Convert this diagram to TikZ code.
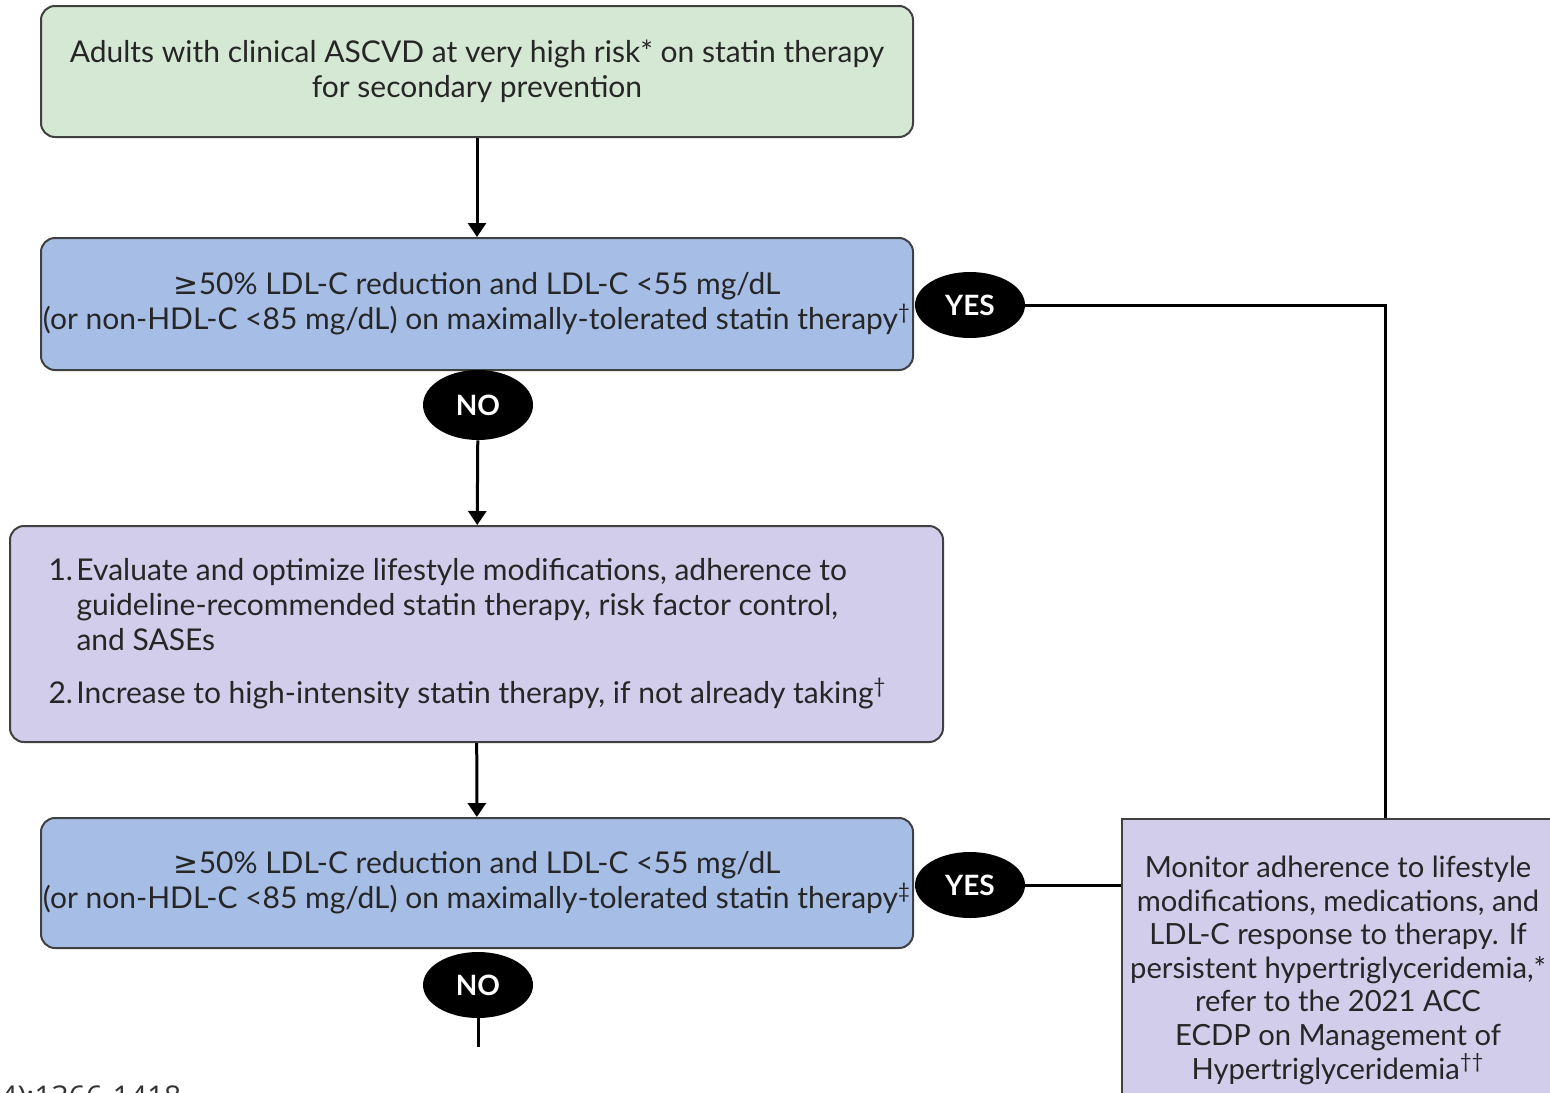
\documentclass[tikz,border=0pt]{standalone}
\usepackage{fontspec}
\setmainfont{Lato}
\newfontfamily\symfont{DejaVu Sans}
\newfontfamily\notefont{Open Sans}
\usetikzlibrary{shapes.geometric, arrows.meta, positioning}

\definecolor{startgreen}{HTML}{D5E8D3}
\definecolor{checkblue}{HTML}{A6BEE5}
\definecolor{actpurple}{HTML}{D1CDEA}

\begin{document}
\begin{tikzpicture}[
    x=0.5pt, y=-0.5pt,
    box/.style={
        rectangle,
        rounded corners=7pt,
        draw=black!75,
        line width=1pt,
        text=black!85,
        align=center,
        inner sep=0pt,
        font=\fontsize{15}{17.5}\selectfont
    },
    answer/.style={ellipse, fill=black, text=white, inner sep=0pt,
        minimum width=55pt, minimum height=33pt,
        font=\bfseries\fontsize{14}{16}\selectfont},
    link/.style={line width=1.5pt},
    flow/.style={link, -{Triangle[width=9pt,length=7pt]}}
]

\useasboundingbox (0,0) rectangle (1550,1092);
\clip (0,0) rectangle (1550,1092);

% boxes of the main column
\node[box, fill=startgreen, minimum width=436pt, minimum height=65.5pt] (start) at (477,71.5)
    {\raisebox{-3pt}{\parbox{430pt}{\centering Adults with clinical ASCVD at very high risk* on statin therapy\\for secondary prevention}}};
\node[box, fill=checkblue, minimum width=436pt, minimum height=66pt] (check1) at (477,304)
    {{\symfont ≥}50\% LDL-C reduction and LDL-C <55 mg/dL\\(or non-HDL-C <85 mg/dL) on maximally-tolerated statin therapy\textsuperscript{†}};
\node[box, fill=actpurple, minimum width=466.5pt, minimum height=108pt, align=left] (optimize) at (476.5,634)
    {\parbox{428pt}{\raggedright
     \hangindent=14pt\hangafter=1\makebox[14pt][l]{1.}Evaluate and optimize lifestyle modifications, adherence to\newline guideline-recommended statin therapy, risk factor control,\newline and SASEs\par
     \vspace{9pt}
     \hangindent=14pt\hangafter=1\makebox[14pt][l]{2.}Increase to high-intensity statin therapy, if not already taking\textsuperscript{†}}};
\node[box, fill=checkblue, minimum width=436pt, minimum height=65pt] (check2) at (477,883)
    {{\symfont ≥}50\% LDL-C reduction and LDL-C <55 mg/dL\\(or non-HDL-C <85 mg/dL) on maximally-tolerated statin therapy\textsuperscript{‡}};

% side box
\node[box, rounded corners=0pt, fill=actpurple, minimum width=219pt, minimum height=146pt, anchor=north] (monitor) at (1341,818) {};
\node[align=center, text=black!85, font=\fontsize{14.6}{16.8}\selectfont, anchor=north] (monitortext) at (1338,849)
    {Monitor adherence to lifestyle\\modifications, medications, and\\LDL-C response to therapy. If\\persistent hypertriglyceridemia,*\\refer to the 2021 ACC\\ECDP on Management of\\Hypertriglyceridemia\textsuperscript{††}};

% answers
\node[answer] (yes1) at (970,305) {YES};
\node[answer, minimum height=35pt] (no1) at (478,405) {NO};
\node[answer] (yes2) at (970,885) {YES};
\node[answer] (no2) at (478,985) {NO};

\coordinate (cut) at (478,1047);

% connectors
\draw[flow] (start) -- (check1);
\draw[flow] (no1) -- (optimize);
\draw[flow] (optimize) -- (check2);
\draw[link] (yes1.east) -| ([xshift=22pt]monitor.north);
\draw[link] (yes2.east) -- (yes2.east -| monitor.west);
\draw[link] (no2) -- (cut);

% source line, cut off at the lower edge
\node[anchor=north west, inner sep=0pt, text=black!80, font=\notefont\fontsize{15}{18}\selectfont] (source) at (0,1085) {4):1366-1418};

\end{tikzpicture}
\end{document}
